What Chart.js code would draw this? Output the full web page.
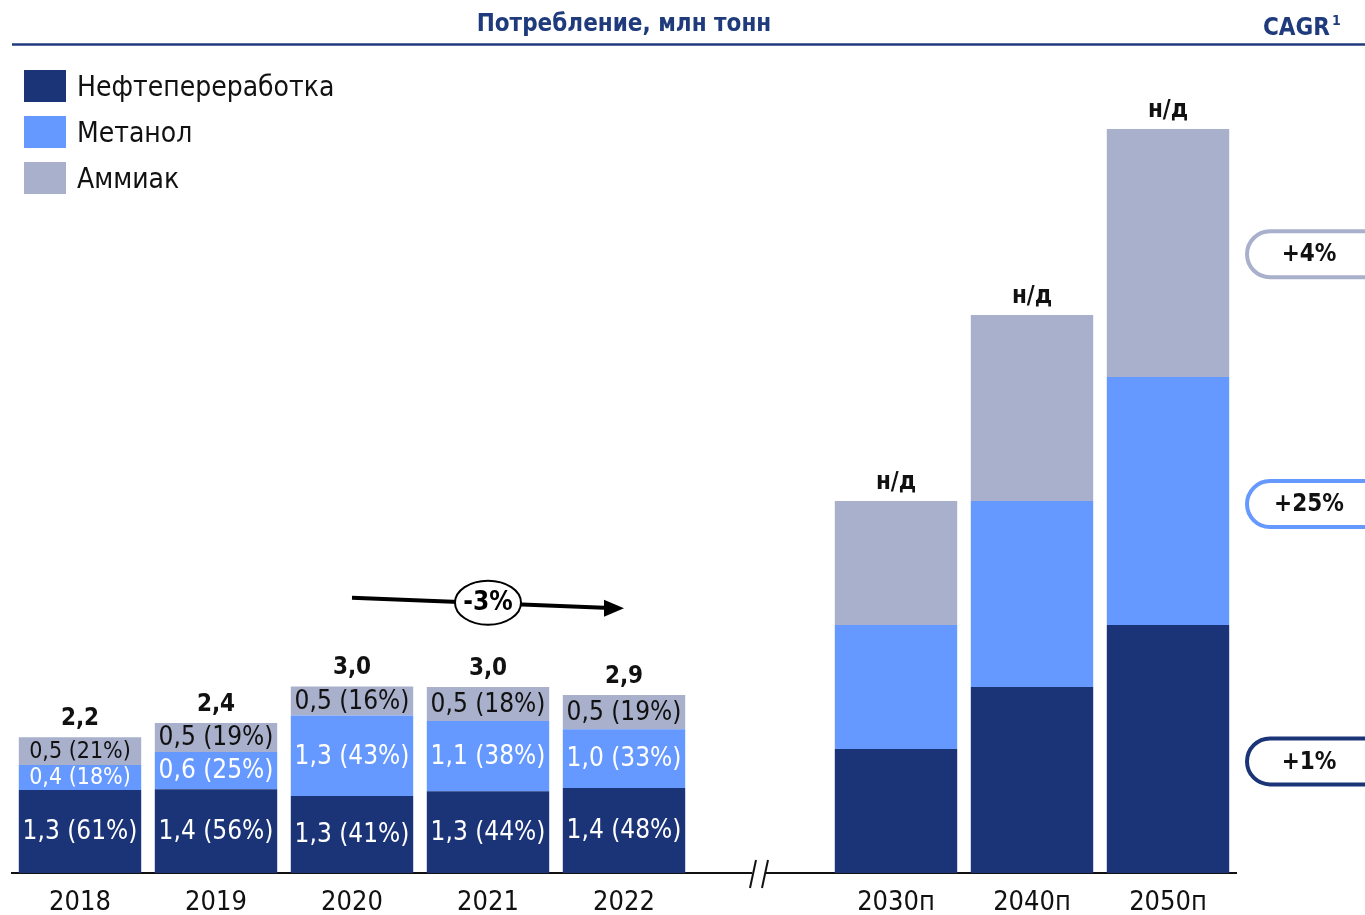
<!DOCTYPE html>
<html><head><meta charset="utf-8">
<script src="https://cdn.jsdelivr.net/npm/chart.js@4/dist/chart.umd.min.js"></script>
<style>html,body{margin:0;padding:0;background:#fff}#wrap{width:1365px;height:915px;position:relative}</style>
</head><body><div id="wrap"><canvas id="c" width="1365" height="915"></canvas></div>
<script>
// ---- data ----
const categories = ['2018','2019','2020','2021','2022','','2030п','2040п','2050п'];
const seriesNames = ['Нефтепереработка','Метанол','Аммиак'];
const refining = [1.34, 1.35, 1.24, 1.32, 1.37, null, 2, 3, 4];
const methanol = [0.40, 0.60, 1.30, 1.13, 0.95, null, 2, 3, 4];
const ammonia  = [0.45, 0.47, 0.47, 0.55, 0.55, null, 2, 3, 4];
const refiningValue = [1.3, 1.4, 1.3, 1.3, 1.4];
const refiningShare = [61, 56, 41, 44, 48];
const methanolValue = [0.4, 0.6, 1.3, 1.1, 1.0];
const methanolShare = [18, 25, 43, 38, 33];
const ammoniaValue = [0.5, 0.5, 0.5, 0.5, 0.5];
const ammoniaShare = [21, 19, 16, 18, 19];
const totals = ['2,2','2,4','3,0','3,0','2,9','','н/д','н/д','н/д'];
const cagrLabels = ['+1%','+25%','+4%'];
const trendLabel = '-3%';

const COLORS = ['#1b3478','#6699ff','#a9b0cb'];
const FONT = "'DejaVu Sans Condensed','DejaVu Sans',sans-serif";
const fmt = v => v.toFixed(1).replace('.', ',');

const segLabels = [
  refiningValue.map((v,i)=>fmt(v)+' ('+refiningShare[i]+'%)'),
  methanolValue.map((v,i)=>fmt(v)+' ('+methanolShare[i]+'%)'),
  ammoniaValue.map((v,i)=>fmt(v)+' ('+ammoniaShare[i]+'%)')
];

const decor = {
  id:'decor',
  afterDatasetsDraw(chart){
    const ctx = chart.ctx;
    ctx.save();
    chart.data.datasets.forEach((ds,di)=>{
      const meta = chart.getDatasetMeta(di);
      meta.data.forEach((el,i)=>{
        const txt = segLabels[di][i];
        if(!txt) return;
        const h = Math.abs(el.base - el.y);
        const size = h < 29 ? 23 : 26;
        ctx.font = size+'px '+FONT;
        ctx.fillStyle = di===2 ? '#111111' : '#ffffff';
        ctx.textAlign='center'; ctx.textBaseline='middle';
        ctx.fillText(txt, el.x, (el.y+el.base)/2+1);
      });
    });
    const top = chart.getDatasetMeta(2);
    ctx.font = 'bold 24px '+FONT; ctx.fillStyle='#111'; ctx.textAlign='center'; ctx.textBaseline='alphabetic';
    top.data.forEach((el,i)=>{ if(totals[i]) ctx.fillText(totals[i], el.x, el.y-12); });
    ctx.restore();
  },
  afterDraw(chart){
    const ctx = chart.ctx, xs = chart.scales.x, ys = chart.scales.y, ca = chart.chartArea;
    ctx.save();
    // header
    ctx.fillStyle='#1f3b7b'; ctx.font='bold 24px '+FONT; ctx.textAlign='center'; ctx.textBaseline='middle';
    ctx.fillText('Потребление, млн тонн', 624, 25);
    ctx.textAlign='left';
    const cw = ctx.measureText('CAGR').width;
    ctx.fillText('CAGR', 1263, 29);
    ctx.font='bold 14px '+FONT; ctx.fillText('1', 1263+cw+2, 21);
    ctx.strokeStyle='#1f3b7b'; ctx.lineWidth=2.5;
    ctx.beginPath(); ctx.moveTo(12,44.5); ctx.lineTo(1365,44.5); ctx.stroke();
    // legend
    seriesNames.forEach((n,i)=>{
      const y = 70 + i*46;
      ctx.fillStyle = COLORS[i]; ctx.fillRect(24, y, 42, 32);
      ctx.fillStyle='#111'; ctx.font='28px '+FONT; ctx.textAlign='left'; ctx.textBaseline='middle';
      ctx.fillText(n, 77, y+19);
    });
    // axis break
    const bx = xs.getPixelForValue(5), by = ca.bottom;
    ctx.fillStyle='#fff'; ctx.fillRect(bx-8, by-3, 14, 6);
    ctx.strokeStyle='#111'; ctx.lineWidth=2;
    [[-10,-4],[2,8]].forEach(([a,b])=>{ ctx.beginPath(); ctx.moveTo(bx+a, by+15); ctx.lineTo(bx+b, by-13); ctx.stroke(); });
    // trend arrow
    const x0 = xs.getPixelForValue(2), x1 = xs.getPixelForValue(4)-20;
    const y0 = ys.getPixelForValue(4.44), y1 = ys.getPixelForValue(4.28);
    ctx.strokeStyle='#000'; ctx.lineWidth=4;
    ctx.beginPath(); ctx.moveTo(x0,y0); ctx.lineTo(x1,y1); ctx.stroke();
    ctx.fillStyle='#000'; ctx.beginPath();
    ctx.moveTo(x1+20, y1+0.5); ctx.lineTo(x1, y1-8); ctx.lineTo(x1, y1+9); ctx.closePath(); ctx.fill();
    const ex = xs.getPixelForValue(3), ey = (y0+y1)/2;
    ctx.fillStyle='#fff'; ctx.strokeStyle='#000'; ctx.lineWidth=2;
    ctx.beginPath(); ctx.ellipse(ex, ey, 33, 22, 0, 0, Math.PI*2); ctx.fill(); ctx.stroke();
    ctx.fillStyle='#000'; ctx.font='bold 26px '+FONT; ctx.textAlign='center'; ctx.textBaseline='middle';
    ctx.fillText(trendLabel, ex, ey+1);
    // CAGR pills
    const pillY = [1.8, 5.95, 9.98];
    cagrLabels.forEach((t,i)=>{
      const cy = ys.getPixelForValue(pillY[i]);
      ctx.strokeStyle = COLORS[i]; ctx.lineWidth = 4; ctx.fillStyle='#fff';
      ctx.beginPath(); ctx.roundRect(1247, cy-23, 150, 46, 23); ctx.fill(); ctx.stroke();
      ctx.fillStyle='#111'; ctx.font='bold 24px '+FONT; ctx.textAlign='center'; ctx.textBaseline='middle';
      ctx.fillText(t, 1309, cy+1);
    });
    ctx.restore();
  }
};

new Chart(document.getElementById('c'), {
  type:'bar',
  data:{ labels:categories, datasets:[
    {label:seriesNames[0], data:refining, backgroundColor:COLORS[0]},
    {label:seriesNames[1], data:methanol, backgroundColor:COLORS[1]},
    {label:seriesNames[2], data:ammonia, backgroundColor:COLORS[2]}
  ]},
  options:{
    responsive:false, animation:false, devicePixelRatio:1,
    layout:{padding:{top:67,left:12,right:129,bottom:0}},
    datasets:{bar:{barPercentage:0.9, categoryPercentage:1.0, borderWidth:0}},
    plugins:{legend:{display:false}, tooltip:{enabled:false}},
    scales:{
      x:{stacked:true, grid:{display:false, drawTicks:false},
         border:{display:true, color:'#111', width:2},
         ticks:{color:'#111', font:{family:FONT, size:27}, padding:14, maxRotation:0, autoSkip:false},
         afterFit(s){ s.height = 42; }},
      y:{stacked:true, display:false, min:0, max:13}
    }
  },
  plugins:[decor]
});
</script></body></html>
